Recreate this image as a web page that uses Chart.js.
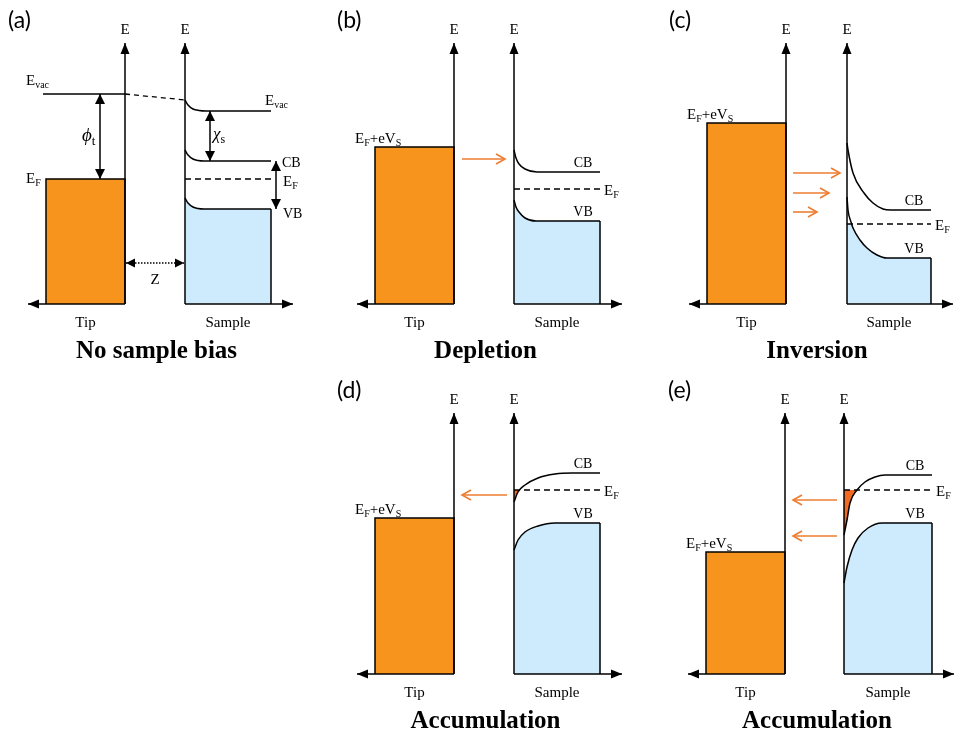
<!DOCTYPE html>
<html lang="en">
<head>
<meta charset="UTF-8">
<title>Tip / sample band diagrams</title>
<script src="https://cdn.jsdelivr.net/npm/chart.js"></script>
<style>
  html, body { margin: 0; padding: 0; background: #fff; }
  #wrap { width: 957px; height: 732px; }
</style>
</head>
<body>
<div id="wrap"><canvas id="bands" width="957" height="732"></canvas></div>
<script>
// energies are heights above each panel's floor
const panelLetters = ['(a)', '(b)', '(c)', '(d)', '(e)'];
const panelTitles = ['No sample bias', 'Depletion', 'Inversion', 'Accumulation', 'Accumulation'];
const tipLevel = [125, 157, 181, 156, 122];   // EF of the tip (EF + eVs when biased)
const sampleEF = [125, 115, 80, 184, 184];

// band edges against depth into the sample
const cbDepth = [
  [0, 3, 8, 13, 19, 86],
  [0, 2, 5, 11, 23, 86],
  [0, 1, 6, 17, 26, 36, 44, 84],
  [0, 4, 11, 24, 41, 58, 86],
  [0, 3, 6, 13, 21, 31, 41, 88]
];
const cbEnergy = [
  [154, 149, 145, 143.5, 143, 143],
  [154, 146, 140, 135, 132, 132],
  [161, 154, 131, 111, 101, 95, 94, 94],
  [172, 182, 189, 196, 200, 201, 201],
  [139, 154, 171, 184, 192, 197, 199, 199]
];
const vbDepth = [
  [0, 3, 8, 13, 19, 86],
  [0, 2, 5, 11, 22, 86],
  [0, 1, 4, 6, 13, 20, 30, 40, 84],
  [0, 4, 11, 24, 41, 86],
  [0, 3, 8, 14, 24, 38, 88]
];
const vbEnergy = [
  [106, 101, 97, 95.5, 95, 95],
  [104, 97, 92, 86, 83, 83],
  [107, 94, 82, 76, 64, 56, 49, 46, 46],
  [124, 134, 142, 148, 151, 151],
  [91, 107, 124, 136, 146, 151, 151]
];

// vacuum level, unbiased case only
const tipVacuum = 210;
const vacDepth = [0, 3, 8, 14, 21, 86];
const vacEnergy = [204, 199, 195, 193.5, 193, 193];

// tunnelling current arrows: [energy, from x, to x]
const currentArrows = [
  [],
  [[145, 462, 505]],
  [[131, 793, 840], [111, 793, 829], [92, 793, 817]],
  [[179, 507, 462]],
  [[174, 837, 793], [138, 837, 793]]
];

// panel geometry: tip slab left edge, tip surface, sample surface, sample right edge, floor
const frames = [
  { left: 46,  tip: 125, smp: 185, right: 271, floor: 304 },
  { left: 375, tip: 454, smp: 514, right: 600, floor: 304 },
  { left: 707, tip: 786, smp: 847, right: 931, floor: 304 },
  { left: 375, tip: 454, smp: 514, right: 600, floor: 674 },
  { left: 706, tip: 785, smp: 844, right: 932, floor: 674 }
];

const ORANGE = '#F7941E', ICE = '#CDEBFC', ARROW = '#ED7D31', ELECTRON = '#F26A21';
const NONE = 'rgba(0,0,0,0)';
const SERIF = '"Liberation Serif", "DejaVu Serif", serif';

function curve(f, depth, energy) {
  return depth.map((d, k) => ({ x: f.smp + d, y: f.floor - energy[k] }));
}

const datasets = [];
function add(data, extra) {
  datasets.push(Object.assign({
    data, borderColor: '#000', borderWidth: 1.5, pointRadius: 0, fill: false, order: 1
  }, extra));
}
const smooth = { cubicInterpolationMode: 'monotone' };
const fillOnly = { borderColor: NONE, borderWidth: 1 };

frames.forEach((f, i) => {
  const tipTop = f.floor - tipLevel[i];
  const efY = f.floor - sampleEF[i];
  const cb = curve(f, cbDepth[i], cbEnergy[i]);
  const vb = curve(f, vbDepth[i], vbEnergy[i]);

  // tip metal filled up to its Fermi level
  add([{ x: f.left, y: f.floor }, { x: f.left, y: tipTop }, { x: f.tip, y: tipTop }, { x: f.tip, y: f.floor }],
      { backgroundColor: ORANGE, fill: { value: f.floor }, order: 3 });

  // occupied valence band
  add(vb, Object.assign({}, smooth, fillOnly, { backgroundColor: ICE, fill: { value: f.floor }, order: 3 }));
  if (vbEnergy[i][0] > sampleEF[i]) {
    // valence band bent above EF: the part over EF is empty
    add(vb, Object.assign({}, smooth, fillOnly, { fill: { target: { value: efY }, above: '#fff', below: NONE }, order: 2 }));
  }
  if (cbEnergy[i][0] < sampleEF[i]) {
    // conduction band dips under EF: electrons collect at the surface
    add(cb, Object.assign({}, smooth, fillOnly, { fill: { target: { value: efY }, above: NONE, below: ELECTRON }, order: 2 }));
  }

  add(vb, smooth);
  add(cb, smooth);
  const vEnd = vb[vb.length - 1];
  add([{ x: vEnd.x, y: vEnd.y }, { x: vEnd.x, y: f.floor }]);
  add([{ x: f.smp, y: efY }, { x: f.right, y: efY }], { borderDash: [6, 4], borderWidth: 1.3 });
});

// vacuum level of panel (a)
const fa = frames[0];
const vac = curve(fa, vacDepth, vacEnergy);
add([{ x: fa.left - 3, y: fa.floor - tipVacuum }, { x: fa.tip, y: fa.floor - tipVacuum }]);
add([{ x: fa.tip, y: fa.floor - tipVacuum }, vac[0]], { borderDash: [5, 4], borderWidth: 1.3 });
add(vac, smooth);

// text with optional subscripts / italics: parts = [[text, kind], ...]
function rich(ctx, parts, x, y, size, align) {
  const subSize = Math.round(size * 0.68);
  const fontFor = k => (k === 'it' ? 'italic ' : '') + (k === 'sub' ? subSize : size) + 'px ' + SERIF;
  const widths = parts.map(([t, k]) => { ctx.font = fontFor(k); return ctx.measureText(t).width; });
  const total = widths.reduce((a, b) => a + b, 0);
  let cx = align === 'center' ? x - total / 2 : align === 'right' ? x - total : x;
  ctx.textAlign = 'left';
  ctx.textBaseline = 'alphabetic';
  parts.forEach(([t, k], j) => {
    ctx.font = fontFor(k);
    ctx.fillText(t, cx, k === 'sub' ? y + size * 0.22 : y);
    cx += widths[j];
  });
}

function head(ctx, x1, y1, x2, y2, open, len, half) {
  const a = Math.atan2(y2 - y1, x2 - x1);
  const bx = x2 - len * Math.cos(a), by = y2 - len * Math.sin(a);
  const px = -Math.sin(a) * half, py = Math.cos(a) * half;
  ctx.beginPath();
  ctx.moveTo(bx + px, by + py);
  ctx.lineTo(x2, y2);
  ctx.lineTo(bx - px, by - py);
  if (open) { ctx.stroke(); } else { ctx.closePath(); ctx.fill(); }
}

function arrow(ctx, x1, y1, x2, y2, opt) {
  const o = Object.assign({ color: '#000', width: 1.5, both: false, open: false, dash: [], len: 10, half: 4.5 }, opt);
  ctx.save();
  ctx.strokeStyle = o.color;
  ctx.fillStyle = o.color;
  ctx.lineWidth = o.width;
  ctx.setLineDash(o.dash);
  ctx.beginPath();
  ctx.moveTo(x1, y1);
  ctx.lineTo(x2, y2);
  ctx.stroke();
  ctx.setLineDash([]);
  head(ctx, x1, y1, x2, y2, o.open, o.len, o.half);
  if (o.both) head(ctx, x2, y2, x1, y1, o.open, o.len, o.half);
  ctx.restore();
}

const overlay = {
  id: 'overlay',
  afterDatasetsDraw(chart) {
    const { ctx, scales: { x, y } } = chart;
    const X = v => x.getPixelForValue(v), Y = v => y.getPixelForValue(v);

    frames.forEach((f, i) => {
      const fl = Y(f.floor);
      // energy axes and the distance axes along the floor
      arrow(ctx, X(f.tip), fl, X(f.tip), Y(f.floor - 261), { len: 11 });
      arrow(ctx, X(f.smp), fl, X(f.smp), Y(f.floor - 261), { len: 11 });
      arrow(ctx, X(f.tip), fl, X(f.left - 18), fl, { len: 11 });
      arrow(ctx, X(f.smp), fl, X(f.right + 22), fl, { len: 11 });

      currentArrows[i].forEach(([e, x0, x1]) => {
        arrow(ctx, X(x0), Y(f.floor - e), X(x1), Y(f.floor - e),
              { color: ARROW, open: true, width: 1.6, len: 9, half: 5 });
      });

      ctx.fillStyle = '#000';
      ctx.font = '23px Lato, "Open Sans", sans-serif';
      ctx.textAlign = 'left';
      ctx.textBaseline = 'alphabetic';
      ctx.fillText(panelLetters[i], X(f.left - 38), Y(f.floor - 276));

      rich(ctx, [['E']], X(f.tip), Y(f.floor - 270), 15, 'center');
      rich(ctx, [['E']], X(f.smp), Y(f.floor - 270), 15, 'center');
      rich(ctx, [['Tip']], X((f.left + f.tip) / 2), Y(f.floor + 23), 15, 'center');
      rich(ctx, [['Sample']], X((f.smp + f.right) / 2), Y(f.floor + 23), 15, 'center');

      ctx.font = 'bold 25px ' + SERIF;
      ctx.textAlign = 'center';
      ctx.fillText(panelTitles[i], X((f.left + f.right) / 2 - 2), Y(f.floor + 54));

      if (i === 0) return;
      const cbEnd = cbEnergy[i][cbEnergy[i].length - 1];
      const vbEnd = vbEnergy[i][vbEnergy[i].length - 1];
      rich(ctx, [['CB']], X(f.right - 17), Y(f.floor - cbEnd - 5), 14, 'center');
      rich(ctx, [['VB']], X(f.right - 17), Y(f.floor - vbEnd - 5), 14, 'center');
      rich(ctx, [['E'], ['F', 'sub']], X(f.right + 4), Y(f.floor - sampleEF[i] + 6), 15, 'left');
      rich(ctx, [['E'], ['F', 'sub'], ['+eV'], ['S', 'sub']],
           X(f.left - 20), Y(f.floor - tipLevel[i] - 4), 15, 'left');
    });

    // unbiased panel: work function, affinity, gap and tip-sample distance
    const f = frames[0];
    const cbBulk = cbEnergy[0][cbEnergy[0].length - 1];
    const vbBulk = vbEnergy[0][vbEnergy[0].length - 1];
    const vacBulk = vacEnergy[vacEnergy.length - 1];
    arrow(ctx, X(100), Y(f.floor - tipVacuum), X(100), Y(f.floor - tipLevel[0]), { both: true, len: 10, half: 5 });
    arrow(ctx, X(f.smp + 25), Y(f.floor - vacBulk), X(f.smp + 25), Y(f.floor - cbBulk), { both: true, len: 10, half: 5 });
    arrow(ctx, X(f.right + 5), Y(f.floor - cbBulk), X(f.right + 5), Y(f.floor - vbBulk), { both: true, len: 10, half: 5 });
    arrow(ctx, X(f.tip + 1), Y(f.floor - 41), X(f.smp - 1), Y(f.floor - 41), { both: true, dash: [1.5, 1.5], len: 9, half: 4.5 });

    ctx.fillStyle = '#000';
    rich(ctx, [['E'], ['vac', 'sub']], X(26), Y(85), 15, 'left');
    rich(ctx, [['E'], ['F', 'sub']], X(26), Y(183), 15, 'left');
    rich(ctx, [['\u03D5', 'it'], ['t', 'sub']], X(82), Y(141), 19, 'left');
    rich(ctx, [['\u03C7', 'it'], ['s', 'sub']], X(213), Y(139), 17, 'left');
    rich(ctx, [['E'], ['vac', 'sub']], X(265), Y(105), 15, 'left');
    rich(ctx, [['CB']], X(282), Y(167), 14, 'left');
    rich(ctx, [['E'], ['F', 'sub']], X(283), Y(186), 15, 'left');
    rich(ctx, [['VB']], X(283), Y(218), 14, 'left');
    rich(ctx, [['Z']], X(155), Y(284), 15, 'center');
  }
};

new Chart(document.getElementById('bands'), {
  type: 'line',
  data: { datasets },
  options: {
    responsive: false,
    animation: false,
    events: [],
    layout: { padding: 0 },
    scales: {
      x: { type: 'linear', min: 0, max: 957, display: false },
      y: { type: 'linear', min: 0, max: 732, reverse: true, display: false }
    },
    plugins: {
      legend: { display: false },
      tooltip: { enabled: false }
    }
  },
  plugins: [overlay]
});
</script>
</body>
</html>
